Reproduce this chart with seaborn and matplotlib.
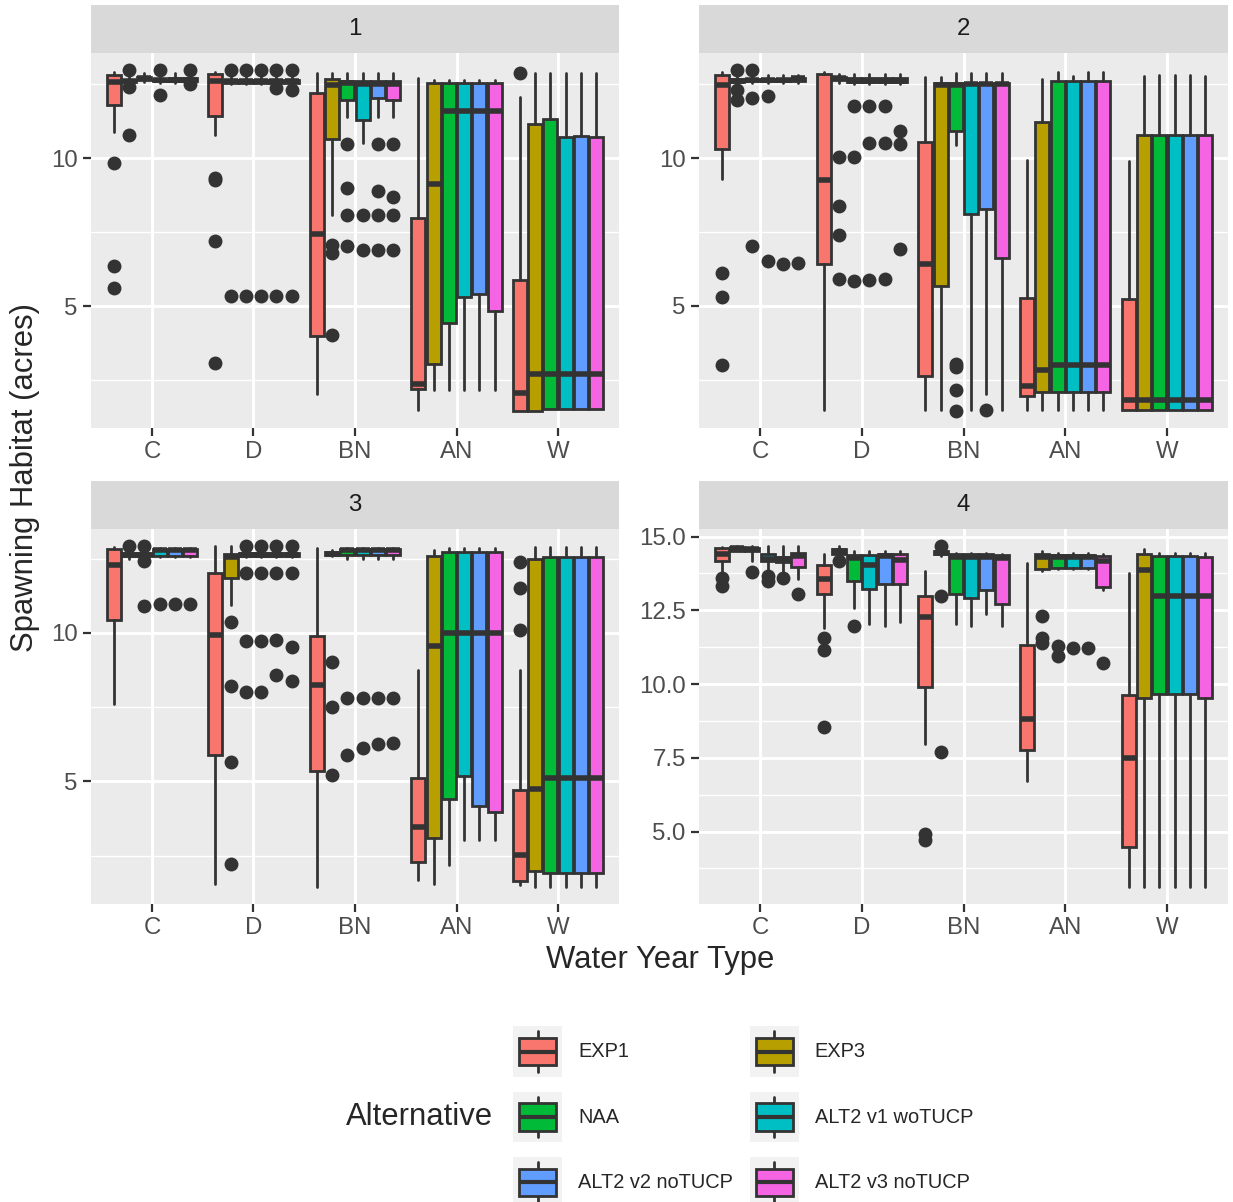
'''
Boxplots of spawning habitat by water year type, one panel per facet
'''

import numpy as np
import matplotlib
matplotlib.use('Agg')
import matplotlib.pyplot as plt
import seaborn as sns
from matplotlib.ticker import MultipleLocator, FormatStrFormatter
from matplotlib.patches import Patch, Rectangle
from matplotlib.lines import Line2D
from matplotlib.legend_handler import HandlerBase

# Categories and groups
categories = ['C', 'D', 'BN', 'AN', 'W']
alternatives = ['EXP1', 'EXP3', 'NAA', 'ALT2 v1 woTUCP', 'ALT2 v2 noTUCP', 'ALT2 v3 noTUCP']
facets = ['1', '2', '3', '4']
colors = ['#F8766D', '#B79F00', '#00BA38', '#00BFC4', '#619CFF', '#F564E3']

# Box statistics (rows = water year type, cols = alternative)
# Facet 1
f1_lo = [[10.87, 12.55, 12.58, 12.55, 12.55, 12.55],
         [10.79, 12.5, 12.5, 12.5, 12.5, 12.5],
         [2.02, 8.09, 11.4, 10.5, 11.4, 11.4],
         [1.48, 2.16, 2.16, 2.16, 2.16, 2.16],
         [1.46, 1.46, 1.52, 1.52, 1.52, 1.52]]
f1_q1 = [[11.80, 12.58, 12.64, 12.6, 12.62, 12.62],
         [11.44, 12.55, 12.55, 12.55, 12.55, 12.55],
         [3.99, 10.65, 11.97, 11.29, 12.02, 11.97],
         [2.19, 3.06, 4.44, 5.3, 5.42, 4.83],
         [1.46, 1.46, 1.52, 1.52, 1.52, 1.52]]
f1_med = [[12.56, 12.62, 12.7, 12.63, 12.66, 12.66],
          [12.6, 12.6, 12.6, 12.6, 12.6, 12.6],
          [7.44, 12.47, 12.55, 12.5, 12.5, 12.5],
          [2.36, 9.12, 11.6, 11.6, 11.6, 11.6],
          [2.08, 2.7, 2.7, 2.7, 2.7, 2.7]]
f1_q3 = [[12.81, 12.66, 12.75, 12.66, 12.7, 12.7],
         [12.83, 12.65, 12.65, 12.65, 12.65, 12.65],
         [12.19, 12.67, 12.6, 12.6, 12.6, 12.6],
         [7.98, 12.53, 12.53, 12.53, 12.53, 12.53],
         [5.9, 11.15, 11.31, 10.73, 10.76, 10.73]]
f1_hi = [[12.9, 12.75, 12.87, 12.75, 12.87, 12.8],
         [12.9, 12.75, 12.75, 12.75, 12.75, 12.75],
         [12.87, 12.87, 12.87, 12.87, 12.87, 12.87],
         [12.72, 12.64, 12.64, 12.64, 12.64, 12.64],
         [12.08, 12.87, 12.87, 12.87, 12.87, 12.87]]
f1_out = [[[9.85, 6.35, 5.6], [12.98, 12.42, 10.8], [], [12.98, 12.13], [], [12.98, 12.5]],
          [[9.33, 9.27, 7.19, 3.09], [12.98, 5.34], [12.98, 5.34], [12.98, 5.34],
           [12.98, 12.36, 5.34], [12.98, 12.3, 5.34]],
          [[], [7.08, 6.8, 4.04], [10.47, 9.01, 8.09, 7.04], [8.09, 6.9],
           [10.47, 8.9, 8.09, 6.9], [10.47, 8.7, 8.09, 6.9]],
          [[], [], [], [], [], []],
          [[12.87], [], [], [], [], []]]

# Facet 2
f2_lo = [[9.3, 12.5, 12.55, 12.55, 12.55, 12.55],
         [1.46, 12.55, 12.5, 12.5, 12.5, 12.5],
         [1.46, 1.46, 10.45, 1.46, 2.0, 1.46],
         [1.46, 1.46, 1.46, 1.46, 1.46, 1.46],
         [1.46, 1.46, 1.46, 1.46, 1.46, 1.46]]
f2_q1 = [[10.31, 12.58, 12.6, 12.6, 12.6, 12.6],
         [6.4, 12.64, 12.58, 12.58, 12.58, 12.58],
         [2.64, 5.67, 10.92, 8.12, 8.26, 6.63],
         [1.96, 2.08, 2.08, 2.08, 2.08, 2.08],
         [1.46, 1.46, 1.46, 1.46, 1.46, 1.46]]
f2_med = [[12.47, 12.62, 12.64, 12.64, 12.64, 12.7],
          [9.27, 12.7, 12.62, 12.62, 12.62, 12.62],
          [6.43, 12.47, 12.47, 12.5, 12.5, 12.5],
          [2.28, 2.83, 2.98, 2.98, 2.98, 2.98],
          [1.82, 1.82, 1.82, 1.82, 1.82, 1.82]]
f2_q3 = [[12.81, 12.66, 12.68, 12.68, 12.68, 12.72],
         [12.83, 12.75, 12.7, 12.7, 12.7, 12.7],
         [10.56, 12.53, 12.53, 12.55, 12.55, 12.55],
         [5.26, 11.21, 12.6, 12.6, 12.6, 12.6],
         [5.22, 10.78, 10.78, 10.78, 10.78, 10.78]]
f2_hi = [[12.9, 12.8, 12.8, 12.8, 12.8, 12.8],
         [12.9, 12.85, 12.85, 12.85, 12.85, 12.85],
         [12.75, 12.75, 12.87, 12.87, 12.87, 12.87],
         [9.94, 12.67, 12.9, 12.79, 12.9, 12.9],
         [9.89, 12.79, 12.82, 12.82, 12.82, 12.79]]
f2_out = [[[6.12, 5.3, 3.0], [12.98, 12.3, 11.95], [12.98, 12.05, 7.02], [12.1, 6.5], [6.4], [6.45]],
          [[], [10.02, 8.37, 7.39, 5.91], [11.76, 10.02, 5.85], [11.76, 10.5, 5.88],
           [11.76, 10.5, 5.9], [10.9, 10.47, 6.92]],
          [[], [], [3.03, 2.92, 2.16, 1.44], [], [1.46], []],
          [[], [], [], [], [], []],
          [[], [], [], [], [], []]]

# Facet 3
f3_lo = [[7.6, 12.5, 12.5, 12.55, 12.55, 12.55],
         [1.55, 10.93, 12.55, 12.55, 12.55, 12.55],
         [1.44, 12.6, 12.5, 12.5, 12.5, 12.5],
         [1.67, 1.55, 2.17, 3.02, 3.02, 3.02],
         [1.52, 1.44, 1.44, 1.44, 1.44, 1.44]]
f3_q1 = [[10.45, 12.58, 12.58, 12.6, 12.6, 12.6],
         [5.89, 11.86, 12.6, 12.6, 12.6, 12.6],
         [5.35, 12.62, 12.62, 12.62, 12.62, 12.62],
         [2.29, 3.1, 4.4, 5.19, 4.18, 3.95],
         [1.63, 1.97, 1.91, 1.91, 1.91, 1.91]]
f3_med = [[12.29, 12.62, 12.62, 12.78, 12.78, 12.78],
          [9.94, 12.56, 12.64, 12.64, 12.64, 12.64],
          [8.25, 12.67, 12.78, 12.78, 12.78, 12.78],
          [3.47, 9.55, 10.0, 10.0, 10.0, 10.0],
          [2.53, 4.73, 5.12, 5.12, 5.12, 5.12]]
f3_q3 = [[12.82, 12.68, 12.68, 12.82, 12.82, 12.82],
         [12.03, 12.66, 12.68, 12.68, 12.68, 12.68],
         [9.89, 12.72, 12.82, 12.82, 12.82, 12.82],
         [5.1, 12.59, 12.74, 12.74, 12.74, 12.74],
         [4.71, 12.51, 12.56, 12.56, 12.56, 12.56]]
f3_hi = [[12.9, 12.8, 12.8, 12.87, 12.87, 12.87],
         [12.93, 12.93, 12.85, 12.85, 12.85, 12.85],
         [12.87, 12.8, 12.87, 12.87, 12.87, 12.87],
         [8.76, 12.78, 12.87, 12.87, 12.87, 12.87],
         [8.76, 12.89, 12.89, 12.89, 12.89, 12.89]]
f3_out = [[[], [12.93], [12.93, 12.44, 10.9], [10.98], [10.98], [10.98]],
          [[], [10.37, 8.2, 5.66, 2.2], [12.93, 12.03, 9.72, 8.0], [12.93, 12.03, 9.72, 8.02],
           [12.93, 12.03, 9.78, 8.57], [12.93, 12.03, 9.52, 8.39]],
          [[], [9.02, 7.49, 5.21], [7.8, 5.9], [7.8, 6.12], [7.8, 6.25], [7.8, 6.28]],
          [[], [], [], [], [], []],
          [[12.39, 11.5, 10.11], [], [], [], [], []]]

# Facet 4
f4_lo = [[13.72, 14.5, 14.17, 13.83, 13.83, 13.55],
         [11.9, 14.3, 12.58, 12.04, 11.98, 12.1],
         [7.96, 14.35, 12.04, 11.98, 12.38, 11.96],
         [6.72, 13.85, 13.9, 13.9, 13.9, 13.2],
         [3.12, 3.12, 3.12, 3.12, 3.12, 3.12]]
f4_q1 = [[14.17, 14.51, 14.51, 14.17, 14.15, 13.97],
         [13.04, 14.4, 13.49, 13.23, 13.4, 13.4],
         [9.89, 14.42, 13.04, 12.93, 13.2, 12.72],
         [7.77, 13.89, 13.95, 13.95, 13.93, 13.29],
         [4.48, 9.52, 9.66, 9.66, 9.66, 9.52]]
f4_med = [[14.4, 14.6, 14.58, 14.25, 14.25, 14.33],
          [13.55, 14.5, 14.29, 14.04, 14.35, 14.2],
          [12.27, 14.46, 14.32, 14.32, 14.32, 14.28],
          [8.82, 14.3, 14.3, 14.3, 14.3, 14.17],
          [7.48, 13.86, 12.98, 12.98, 12.98, 12.98]]
f4_q3 = [[14.6, 14.66, 14.62, 14.4, 14.31, 14.45],
         [14.04, 14.57, 14.38, 14.38, 14.4, 14.4],
         [12.98, 14.5, 14.4, 14.4, 14.4, 14.36],
         [11.32, 14.4, 14.38, 14.38, 14.38, 14.34],
         [9.64, 14.42, 14.34, 14.34, 14.34, 14.31]]
f4_hi = [[14.65, 14.68, 14.68, 14.68, 14.68, 14.68],
         [14.4, 14.68, 14.5, 14.5, 14.5, 14.5],
         [13.85, 14.55, 14.45, 14.45, 14.45, 14.42],
         [14.12, 14.5, 14.45, 14.45, 14.45, 14.4],
         [13.78, 14.57, 14.45, 14.45, 14.45, 14.45]]
f4_out = [[[13.6, 13.32], [], [13.8], [13.66, 13.49], [13.6], [13.06]],
          [[11.56, 11.17, 8.56], [14.17], [11.96], [], [], []],
          [[4.9, 4.7], [14.68, 13.0, 7.69], [], [], [], []],
          [[], [12.3, 11.56, 11.4], [11.28, 10.94], [11.22], [11.22], [10.71]],
          [[], [], [], [], [], []]]

facet_stats = [
    (f1_lo, f1_q1, f1_med, f1_q3, f1_hi, f1_out),
    (f2_lo, f2_q1, f2_med, f2_q3, f2_hi, f2_out),
    (f3_lo, f3_q1, f3_med, f3_q3, f3_hi, f3_out),
    (f4_lo, f4_q1, f4_med, f4_q3, f4_hi, f4_out),
]

# Theme close to ggplot's grey theme
sns.set_theme(style='darkgrid', rc={'axes.facecolor': '#EBEBEB', 'grid.color': 'white'})
plt.rcParams['font.family'] = ['Liberation Sans', 'DejaVu Sans']

EDGE = '#333333'
W, H = 1233, 1202
fig = plt.figure(figsize=(W / 100, H / 100), dpi=100)


def frac(x0, y0, x1, y1):
    return [x0 / W, 1 - y1 / H, (x1 - x0) / W, (y1 - y0) / H]


# Pixel boxes of the panels
panel_px = [(91, 53, 619, 428), (699, 53, 1228, 428), (91, 529, 619, 904), (699, 529, 1228, 904)]
strip_h = 48
step = 0.15

for f, (lo, q1, med, q3, hi, out) in enumerate(facet_stats):
    x0, y0, x1, y1 = panel_px[f]
    ax = fig.add_axes(frac(x0, y0, x1, y1))
    ax.set_axisbelow(True)

    for j in range(len(alternatives)):
        stats = []
        for i in range(len(categories)):
            stats.append({'whislo': lo[i][j], 'q1': q1[i][j], 'med': med[i][j],
                          'q3': q3[i][j], 'whishi': hi[i][j], 'fliers': out[i][j]})
        pos = np.arange(len(categories)) + (j - 2.5) * step
        ax.bxp(stats, positions=pos, widths=step * 0.92, patch_artist=True,
               showcaps=False, manage_ticks=False,
               boxprops=dict(facecolor=colors[j], edgecolor=EDGE, linewidth=2),
               whiskerprops=dict(color=EDGE, linewidth=2),
               medianprops=dict(color=EDGE, linewidth=4, solid_capstyle='butt'),
               flierprops=dict(marker='o', markerfacecolor=EDGE, markeredgecolor=EDGE,
                               markersize=9, linestyle='none'))

    # Limits with 5% expansion like ggplot
    vals = np.concatenate([np.ravel(lo), np.ravel(hi)] + [np.array(o) for row in out for o in row if o])
    pad = 0.05 * (vals.max() - vals.min())
    ax.set_ylim(vals.min() - pad, vals.max() + pad)
    ax.set_xlim(-0.6, len(categories) - 0.4)

    ax.set_xticks(range(len(categories)))
    ax.set_xticklabels(categories)
    if f == 3:
        ax.yaxis.set_major_locator(MultipleLocator(2.5))
        ax.yaxis.set_minor_locator(MultipleLocator(1.25))
        ax.yaxis.set_major_formatter(FormatStrFormatter('%.1f'))
    else:
        ax.yaxis.set_major_locator(MultipleLocator(5))
        ax.yaxis.set_minor_locator(MultipleLocator(2.5))
        ax.yaxis.set_major_formatter(FormatStrFormatter('%g'))

    ax.grid(False)
    ax.grid(which='major', color='white', linewidth=2.1)
    ax.grid(which='minor', axis='y', color='white', linewidth=1.0)
    ax.tick_params(which='major', length=5.5, width=1.6, color=EDGE,
                   labelsize=17.3, labelcolor='#4D4D4D', pad=4,
                   bottom=True, left=True)
    ax.tick_params(which='minor', length=0)
    for s in ax.spines.values():
        s.set_visible(False)

    # Facet strip
    sax = fig.add_axes(frac(x0, y0 - strip_h, x1, y0))
    sax.set_facecolor('#D9D9D9')
    sax.grid(False)
    sax.set_xticks([])
    sax.set_yticks([])
    for s in sax.spines.values():
        s.set_visible(False)
    sax.text(0.5, 0.5, facets[f], ha='center', va='center', fontsize=17.3,
             color='#1A1A1A', transform=sax.transAxes)

# Axis titles
fig.text(660 / W, 1 - 960 / H, 'Water Year Type', ha='center', va='center', fontsize=22.3)
fig.text(25 / W, 1 - 478 / H, 'Spawning Habitat (acres)', ha='center', va='center',
         rotation=90, fontsize=22.3)


# Legend keys drawn like ggplot boxplot keys
class BoxKey(HandlerBase):
    def create_artists(self, legend, orig_handle, xdescent, ydescent, width, height, fontsize, trans):
        x, y = -xdescent, -ydescent
        bg = Rectangle((x, y), width, height, facecolor='#F2F2F2', edgecolor='none', transform=trans)
        cx = x + width / 2
        wh = Line2D([cx, cx], [y + 0.1 * height, y + 0.9 * height], color=EDGE, lw=2, transform=trans)
        box = Rectangle((x + 0.12 * width, y + 0.23 * height), 0.76 * width, 0.54 * height,
                        facecolor=orig_handle.get_facecolor(), edgecolor=EDGE, lw=2, transform=trans)
        md = Line2D([x + 0.12 * width, x + 0.88 * width], [y + height / 2] * 2, color=EDGE, lw=3,
                    solid_capstyle='butt', transform=trans)
        return [bg, wh, box, md]


handles = [Patch(facecolor=c, label=a) for c, a in zip(colors, alternatives)]
order = [0, 2, 4, 1, 3, 5]
fig.legend([handles[k] for k in order], [alternatives[k] for k in order], ncol=2,
           loc='center left', bbox_to_anchor=(513 / W, 1 - 1117 / H), frameon=False,
           fontsize=14.4, handlelength=2.45, handleheight=3.5, handletextpad=0.8,
           columnspacing=0.85, labelspacing=0.75, borderpad=0, borderaxespad=0,
           handler_map={Patch: BoxKey()})
fig.text(493 / W, 1 - 1117 / H, 'Alternative', ha='right', va='center', fontsize=22.3)

plt.savefig('out.png', dpi=100)
